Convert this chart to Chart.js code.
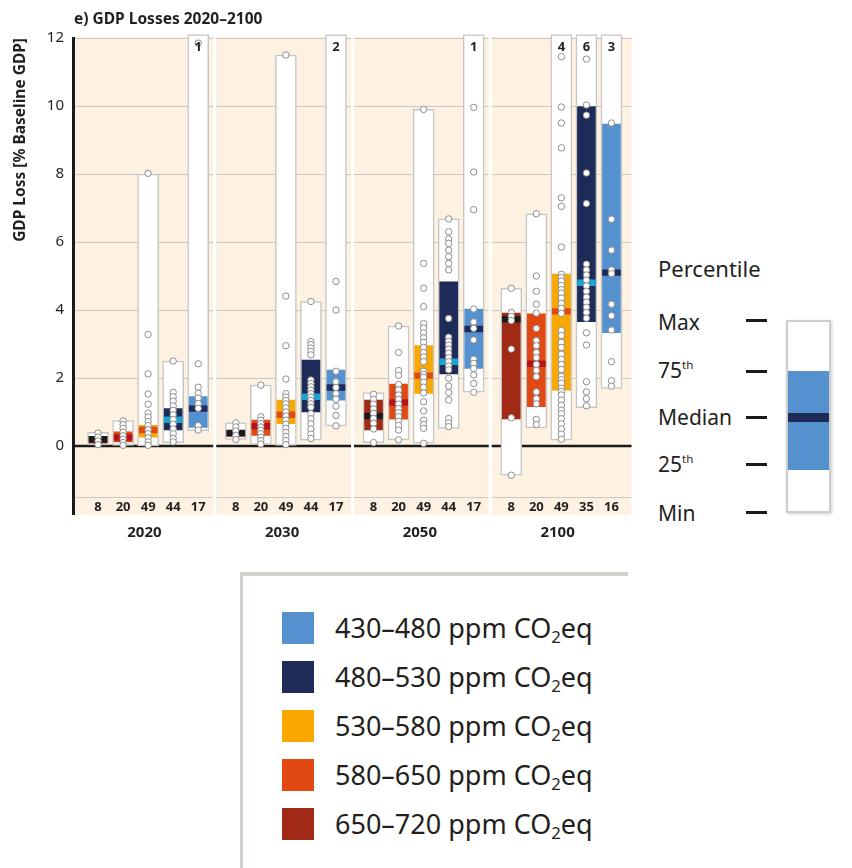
<!DOCTYPE html>
<html>
<head>
<meta charset="utf-8">
<title>GDP Losses 2020–2100</title>
<script src="https://cdn.jsdelivr.net/npm/chart.js@4.4.1/dist/chart.umd.min.js"></script>
<style>
  html, body { margin: 0; padding: 0; background: #fff; }
  body { width: 852px; height: 868px; position: relative; overflow: hidden;
         font-family: "Noto Sans", "Open Sans", sans-serif; color: #231f20; }
  #wrap { position: absolute; left: 0; top: 0; width: 640px; height: 548px; }
  #title { position: absolute; left: 74px; top: 7px; font-weight: bold; font-size: 15.5px; line-height: 22px; }

  /* percentile key */
  .pk { position: absolute; left: 658px; font-size: 21px; line-height: 24px; }
  .pk sup { font-size: 0.55em; vertical-align: 0.75em; line-height: 0; }
  .dash { position: absolute; left: 746px; width: 21px; height: 3px; background: #1a1a1a; }
  #keybox { position: absolute; left: 786px; top: 320px; width: 45px; height: 193px; box-sizing: border-box;
            background: #fff; border: 2px solid #cdcdcd; box-shadow: 1px 1px 3px rgba(0,0,0,0.18); }
  #keybox .iqr { position: absolute; left: 0; right: 0; top: 49px; height: 99px; background: #5591cf; }
  #keybox .med { position: absolute; left: 0; right: 0; top: 91px; height: 9px; background: #1e2b58; }

  /* legend */
  #legend { position: absolute; left: 240px; top: 572px; width: 388px; height: 296px; box-sizing: border-box;
            border-top: 4px solid #d3d0cb; border-left: 3px solid #d3d0cb; background: #fff; }
  #rows { position: absolute; left: 282px; top: 603.5px; }
  .row { display: flex; align-items: center; height: 49px; }
  .sw { width: 32px; height: 32px; margin-right: 21px; }
  .lt { font-size: 27px; line-height: 32px; white-space: nowrap; }
  .lt sub { font-size: 0.62em; vertical-align: -0.3em; line-height: 0; }
</style>
</head>
<body>
<div id="wrap"><canvas id="gdpChart" width="640" height="548"></canvas></div>
<div id="title">e) GDP Losses 2020–2100</div>

<div class="pk" style="top:256px;font-size:22px;">Percentile</div>
<div class="pk" style="top:310px;">Max</div>
<div class="pk" style="top:358px;">75<sup>th</sup></div>
<div class="pk" style="top:405px;">Median</div>
<div class="pk" style="top:452px;">25<sup>th</sup></div>
<div class="pk" style="top:501px;">Min</div>
<div class="dash" style="top:319px;"></div>
<div class="dash" style="top:370px;"></div>
<div class="dash" style="top:416px;"></div>
<div class="dash" style="top:463px;"></div>
<div class="dash" style="top:511px;"></div>
<div id="keybox"><div class="iqr"></div><div class="med"></div></div>

<div id="legend"></div>
<div id="rows"></div>

<script>
(function(){
  'use strict';

  // ---- data ----
  const years = ['2020', '2030', '2050', '2100'];
  // left to right inside each panel
  const concentrations = ['650–720', '580–650', '530–580', '480–530', '430–480'];
  const legendOrder = [4, 3, 2, 1, 0];

  const scenarioCounts = [[8, 20, 49, 44, 17], [8, 20, 49, 44, 17], [8, 20, 49, 44, 17], [8, 20, 49, 35, 16]];
  const aboveScale     = [[0, 0, 0, 0, 1], [0, 0, 0, 0, 2], [0, 0, 0, 0, 1], [0, 0, 4, 6, 3]];

  const minLoss    = [[0.03, 0.02, 0.00, 0.10, 0.45], [0.19, 0.05, 0.02, 0.17, 0.59], [0.10, 0.18, 0.08, 0.52, 1.58], [-0.86, 0.53, 0.17, 1.13, 1.69]];
  const p25Loss    = [[0.08, 0.12, 0.26, 0.47, 0.55], [0.28, 0.31, 0.66, 1.00, 1.35], [0.47, 0.79, 1.55, 2.12, 2.28], [0.80, 1.16, 1.64, 3.66, 3.33]];
  const medianLoss = [[0.20, 0.25, 0.47, 0.77, 1.10], [0.38, 0.58, 0.92, 1.45, 1.72], [0.88, 1.28, 2.07, 2.48, 3.44], [3.73, 2.42, 3.96, 4.80, 5.10]];
  const p75Loss    = [[0.28, 0.42, 0.61, 1.10, 1.45], [0.44, 0.76, 1.35, 2.53, 2.23], [1.35, 1.82, 2.95, 4.83, 4.03], [3.91, 3.89, 5.06, 9.98, 9.47]];
  const maxLoss    = [[0.40, 0.75, 8.00, 2.50, 12.1], [0.68, 1.79, 11.5, 4.25, 12.1], [1.57, 3.53, 9.90, 6.68, 12.1], [4.64, 6.83, 12.1, 12.1, 12.1]];

  const dots2020 = [
    [0.38, 0.26, 0.15, 0.04],
    [0.74, 0.63, 0.52, 0.41, 0.30, 0.20, 0.10, 0.02],
    [8.02, 3.28, 2.12, 1.53, 1.23, 0.97, 0.85, 0.72, 0.60, 0.48, 0.36, 0.24, 0.12, 0.02],
    [2.50, 1.58, 1.45, 1.32, 1.18, 1.05, 0.92, 0.78, 0.64, 0.50, 0.36, 0.22, 0.12],
    [11.85, 2.42, 1.73, 1.55, 1.41, 1.25, 1.11, 0.60, 0.47]
  ];
  const dots2030 = [
    [0.68, 0.56, 0.44, 0.31, 0.19],
    [1.79, 0.86, 0.76, 0.66, 0.56, 0.46, 0.36, 0.26, 0.16, 0.06],
    [11.5, 4.41, 2.95, 1.97, 1.54, 1.44, 1.34, 1.24, 1.12, 1.00, 0.88, 0.76, 0.64, 0.52, 0.40, 0.28, 0.16, 0.04],
    [4.25, 3.07, 2.98, 2.88, 2.78, 2.68, 1.94, 1.84, 1.74, 1.64, 1.54, 1.44, 1.34, 1.24, 1.14, 0.95, 0.80, 0.65, 0.50, 0.35, 0.22],
    [4.84, 4.00, 2.20, 1.89, 1.72, 1.54, 1.38, 1.17, 0.90, 0.59]
  ];
  const dots2050 = [
    [1.52, 1.37, 1.23, 1.09, 0.96, 0.81, 0.67, 0.50, 0.10],
    [3.53, 2.75, 2.22, 2.08, 1.81, 1.65, 1.50, 1.37, 1.23, 1.10, 0.98, 0.86, 0.73, 0.60, 0.47, 0.18],
    [9.90, 5.37, 4.64, 4.10, 3.60, 3.47, 3.33, 3.18, 3.05, 2.90, 2.75, 2.62, 2.48, 2.20, 2.10, 2.02, 1.88, 1.73, 1.56, 1.30, 1.03, 0.76, 0.63, 0.52, 0.08],
    [6.68, 6.30, 6.09, 5.96, 5.76, 5.57, 5.37, 5.18, 3.75, 3.20, 3.08, 2.97, 2.85, 2.73, 2.60, 2.48, 2.35, 2.24, 1.99, 1.76, 1.57, 1.35, 0.81, 0.68, 0.57],
    [9.96, 8.06, 6.95, 4.03, 3.65, 3.46, 3.12, 2.55, 2.43, 2.28, 2.09, 1.84, 1.58]
  ];
  const dots2100 = [
    [4.64, 3.93, 3.81, 3.69, 2.85, 0.83, -0.86],
    [6.83, 5.00, 4.55, 4.17, 3.91, 3.46, 3.10, 2.95, 2.75, 2.60, 2.40, 2.22, 2.04, 1.59, 1.39, 1.24, 0.78, 0.63],
    [11.45, 9.97, 9.50, 8.77, 7.30, 7.05, 5.85, 5.05, 4.95, 4.85, 4.72, 4.60, 4.50, 4.35, 4.20, 4.05, 3.90, 3.40, 3.25, 3.05, 2.90, 2.70, 2.55, 2.40, 2.25, 2.05, 1.95, 1.85, 1.70, 1.60, 1.50, 1.35, 1.20, 1.05, 0.95, 0.80, 0.65, 0.50, 0.35, 0.20],
    [11.38, 10.03, 9.73, 8.03, 7.13, 5.35, 5.18, 5.03, 4.88, 4.71, 4.55, 4.38, 4.23, 4.08, 3.93, 3.76, 3.33, 2.97, 1.89, 1.59, 1.39, 1.18],
    [9.50, 6.67, 5.76, 5.18, 5.07, 4.17, 3.83, 3.41, 2.48, 1.92, 1.76]
  ];
  const scenarioLoss = [dots2020, dots2030, dots2050, dots2100];

  const yTicks = [0, 2, 4, 6, 8, 10, 12];

  // ---- styles ----
  const boxColors    = ['#a12a17', '#e04a12', '#f8a800', '#1e2b58', '#5591cf'];
  const medianColors = ['#1a1a1a', '#b5121b', '#e04a12', '#1ba3d6', '#1e2b58'];
  const INK = '#231f20';
  const FONT = '"Noto Sans", "Open Sans", sans-serif';
  Chart.defaults.font.family = FONT;

  const PANEL_STEP = 5.5;
  const xOf = (p, c) => p * PANEL_STEP + c;

  // legend (html)
  const rows = document.getElementById('rows');
  legendOrder.forEach(c => {
    const r = document.createElement('div');
    r.className = 'row';
    r.innerHTML = `<div class="sw" style="background:${boxColors[c]}"></div><div class="lt">${concentrations[c]} ppm CO<sub>2</sub>eq</div>`;
    rows.appendChild(r);
  });

  // build datasets
  const whiteBoxes = [], iqrBoxes = [], medianBars = [], dots = [];
  years.forEach((yr, p) => {
    concentrations.forEach((cc, c) => {
      const x = xOf(p, c);
      whiteBoxes.push({ x, y: [minLoss[p][c], maxLoss[p][c]] });
      iqrBoxes.push({ x, y: [p25Loss[p][c], p75Loss[p][c]] });
      medianBars.push({ x, y: [medianLoss[p][c] - 0.085, medianLoss[p][c] + 0.085] });
      scenarioLoss[p][c].forEach(v => dots.push({ x, y: v }));
    });
  });

  function panelBounds(p){
    const left = p === 0 ? -1 : p * PANEL_STEP - 0.78;
    const right = p === years.length - 1 ? p * PANEL_STEP + 4.8 : p * PANEL_STEP + 4.6;
    return [left, right];
  }

  const panelPlugin = {
    id: 'panels',
    beforeDraw(chart){
      const { ctx, chartArea, scales: { x, y } } = chart;
      ctx.save();
      years.forEach((yr, p) => {
        const [l, r] = panelBounds(p);
        const xl = x.getPixelForValue(l), xr = x.getPixelForValue(r);
        ctx.fillStyle = '#fdf2e1';
        ctx.fillRect(xl, chartArea.top - 1, xr - xl, chartArea.bottom - chartArea.top + 2);
        ctx.strokeStyle = '#cbc8c3';
        ctx.lineWidth = 1;
        yTicks.filter(v => v > 0).concat([-1.5]).forEach(v => {
          const py = Math.round(y.getPixelForValue(v)) + 0.5;
          ctx.beginPath(); ctx.moveTo(xl, py); ctx.lineTo(xr, py); ctx.stroke();
        });
        ctx.strokeStyle = '#1a1a1a';
        ctx.lineWidth = 2.5;
        const py0 = y.getPixelForValue(0);
        ctx.beginPath(); ctx.moveTo(xl, py0); ctx.lineTo(xr, py0); ctx.stroke();
      });
      ctx.restore();
    },
    afterDraw(chart){
      const { ctx, chartArea, scales: { x, y } } = chart;
      ctx.save();
      ctx.fillStyle = INK;
      ctx.textAlign = 'center';
      ctx.textBaseline = 'middle';
      years.forEach((yr, p) => {
        ctx.font = `bold 13px ${FONT}`;
        concentrations.forEach((cc, c) => {
          const px = x.getPixelForValue(xOf(p, c));
          ctx.fillText(String(scenarioCounts[p][c]), px, y.getPixelForValue(-1.79));
          if (aboveScale[p][c] > 0) ctx.fillText(String(aboveScale[p][c]), px, chartArea.top + 9);
        });
        ctx.font = `bold 15px ${FONT}`;
        ctx.fillText(yr, x.getPixelForValue(p * PANEL_STEP + 1.85), chartArea.bottom + 19);
      });
      ctx.restore();
    }
  };

  new Chart(document.getElementById('gdpChart'), {
    type: 'bar',
    data: {
      datasets: [
        { type: 'scatter', data: dots, order: 1, pointRadius: 3.2, pointHoverRadius: 3.2,
          pointBackgroundColor: '#ffffff', pointBorderColor: '#8e8e8e', pointBorderWidth: 1 },
        { data: medianBars, order: 2, grouped: false, barThickness: 18,
          backgroundColor: ctx => medianColors[ctx.dataIndex % 5] },
        { data: iqrBoxes, order: 3, grouped: false, barThickness: 18,
          backgroundColor: ctx => boxColors[ctx.dataIndex % 5] },
        { data: whiteBoxes, order: 4, grouped: false, barThickness: 21, clip: 4,
          backgroundColor: '#ffffff', borderColor: '#c6c6c6', borderWidth: 1.5, borderSkipped: false }
      ]
    },
    options: {
      responsive: false,
      animation: false,
      events: [],
      layout: { padding: { left: 0, right: 8.5, top: 38, bottom: 34 } },
      plugins: { legend: { display: false }, tooltip: { enabled: false } },
      scales: {
        x: { type: 'linear', min: -1, max: 21.3, offset: false, display: false },
        y: {
          min: -2, max: 12,
          afterFit: s => { s.width = 73; },
          afterBuildTicks: s => { s.ticks = yTicks.map(v => ({ value: v })); },
          grid: { display: false, drawTicks: false },
          border: { display: true, color: '#1a1a1a', width: 3 },
          ticks: { padding: 9, color: INK, font: { size: 15 } },
          title: { display: true, text: 'GDP Loss [% Baseline GDP]', align: 'end', color: INK,
                   font: { size: 15.5, weight: 'bold' }, padding: { top: 11, bottom: 0 } }
        }
      }
    },
    plugins: [panelPlugin]
  });
})();
</script>
</body>
</html>
